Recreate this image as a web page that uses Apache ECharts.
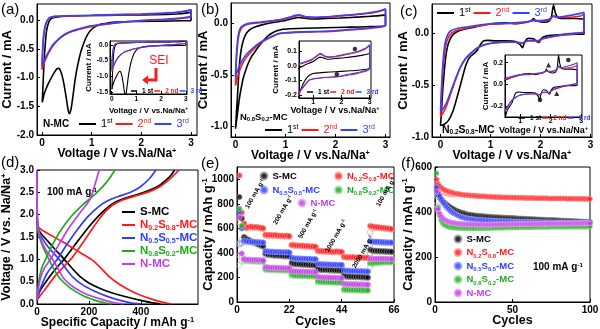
<!DOCTYPE html>
<html>
<head>
<meta charset="utf-8">
<script src="https://cdn.jsdelivr.net/npm/echarts@6/dist/echarts.min.js"></script>
<style>html,body{margin:0;padding:0;background:#fff}#chart{width:600px;height:329px}</style>
</head>
<body>
<div id="chart"></div>
<script>
// ---------- tick labels ----------
const voltTicks = [0, 1, 2, 3];
const insetVoltTicks = [1, 2, 3];
const currentTicksA = [0, -0.5, -1.0, -1.5, -2.0];
const currentTicksAInset = [0, -0.5, -1.0, -1.5];
const currentTicksBC = [0, -0.5, -1.0];
const currentTicksBInset = [0.1, 0, -0.1, -0.2];
const currentTicksCInset = [0.2, 0, -0.2];
const capTicksD = [0, 200, 400];
const voltTicksD = [0, 0.5, 1.0, 1.5, 2.0, 2.5, 3.0];
const cycleTicksE = [0, 22, 44, 66];
const capTicksE = [0, 200, 400, 600, 800, 1000];
const cycleTicksF = [0, 50, 100];
const capTicksF = [0, 200, 400, 600];

// ---------- names ----------
const cycleNames = ['1st', '2nd', '3rd'];
const materials = ['S-MC', 'N0.2S0.8-MC', 'N0.5S0.5-MC', 'N0.8S0.2-MC', 'N-MC'];
const rateLabels = ['100', '200', '500', '1000', '2000', '100'];

// ---------- (a) N-MC cyclic voltammetry [V, mA] ----------
const cvNMC_1st = [[3.0,-0.01],[2.6,-0.015],[2.2,-0.02],[1.8,-0.025],[1.5,-0.035],[1.35,-0.045],[1.2,-0.07],[1.1,-0.1],[1.0,-0.16],[0.92,-0.25],[0.85,-0.38],[0.78,-0.56],[0.72,-0.78],[0.67,-1.02],[0.63,-1.28],[0.595,-1.5],[0.57,-1.6],[0.55,-1.63],[0.53,-1.58],[0.5,-1.42],[0.46,-1.2],[0.42,-1.02],[0.38,-0.9],[0.34,-0.84],[0.3,-0.85],[0.25,-0.91],[0.19,-1.0],[0.13,-1.1],[0.08,-1.2],[0.04,-1.3],[0.015,-1.4],[0.005,-1.43],[0.015,-1.25],[0.03,-0.95],[0.05,-0.62],[0.07,-0.38],[0.09,-0.2],[0.12,-0.08],[0.16,0.0],[0.22,0.04],[0.35,0.06],[0.6,0.07],[1.0,0.08],[1.5,0.085],[2.0,0.09],[2.5,0.1],[2.8,0.11],[2.95,0.13],[3.0,0.14],[3.0,-0.01]];
const cvNMC_2nd = [[3.0,0.05],[2.8,0.03],[2.5,0.01],[2.2,0.0],[1.9,-0.02],[1.6,-0.04],[1.3,-0.07],[1.0,-0.11],[0.8,-0.15],[0.6,-0.2],[0.45,-0.26],[0.32,-0.35],[0.22,-0.45],[0.14,-0.56],[0.08,-0.67],[0.04,-0.76],[0.01,-0.84],[0.0,-0.86],[0.008,-0.68],[0.02,-0.45],[0.04,-0.25],[0.07,-0.1],[0.11,-0.01],[0.16,0.04],[0.25,0.06],[0.5,0.07],[1.0,0.08],[1.5,0.09],[2.0,0.1],[2.4,0.115],[2.7,0.13],[2.9,0.155],[3.0,0.18],[3.0,0.05]];
const cvNMC_3rd = [[3.0,0.06],[2.8,0.035],[2.5,0.015],[2.2,0.005],[1.9,-0.015],[1.6,-0.035],[1.3,-0.065],[1.0,-0.1],[0.8,-0.14],[0.6,-0.19],[0.45,-0.25],[0.32,-0.34],[0.22,-0.43],[0.14,-0.54],[0.08,-0.64],[0.04,-0.72],[0.01,-0.78],[0.0,-0.8],[0.008,-0.62],[0.02,-0.4],[0.04,-0.22],[0.07,-0.08],[0.11,0.0],[0.16,0.045],[0.25,0.065],[0.5,0.075],[1.0,0.085],[1.5,0.095],[2.0,0.105],[2.4,0.12],[2.7,0.135],[2.9,0.16],[3.0,0.18],[3.0,0.06]];

// ---------- (b) N0.8S0.2-MC ----------
const cvN8S2_1st = [[3.0,0.085],[3.0,-0.015],[2.6,-0.03],[2.2,-0.035],[1.8,-0.04],[1.4,-0.045],[1.1,-0.05],[0.95,-0.055],[0.8,-0.075],[0.65,-0.12],[0.55,-0.17],[0.45,-0.23],[0.38,-0.28],[0.32,-0.32],[0.26,-0.38],[0.22,-0.43],[0.16,-0.52],[0.12,-0.61],[0.08,-0.72],[0.05,-0.83],[0.02,-0.95],[0.0,-1.02],[0.02,-0.85],[0.04,-0.7],[0.07,-0.45],[0.1,-0.3],[0.14,-0.19],[0.2,-0.11],[0.28,-0.06],[0.4,-0.03],[0.55,-0.01],[0.75,0.01],[1.0,0.03],[1.15,0.05],[1.25,0.06],[1.35,0.055],[1.5,0.045],[1.8,0.05],[2.1,0.055],[2.5,0.065],[2.8,0.075],[3.0,0.085]];
const cvN8S2_2nd = [[3.0,0.14],[3.0,-0.02],[2.95,-0.03],[2.8,-0.04],[2.5,-0.055],[2.2,-0.065],[1.9,-0.075],[1.5,-0.08],[1.2,-0.085],[1.0,-0.09],[0.85,-0.1],[0.72,-0.13],[0.6,-0.16],[0.5,-0.19],[0.4,-0.23],[0.3,-0.28],[0.2,-0.34],[0.12,-0.41],[0.06,-0.49],[0.02,-0.56],[0.0,-0.6],[0.01,-0.45],[0.03,-0.27],[0.06,-0.13],[0.1,-0.06],[0.18,-0.02],[0.3,0.0],[0.5,0.01],[0.75,0.025],[0.95,0.04],[1.1,0.06],[1.2,0.075],[1.27,0.08],[1.35,0.07],[1.45,0.06],[1.6,0.058],[1.8,0.062],[2.0,0.07],[2.3,0.082],[2.6,0.095],[2.85,0.115],[2.95,0.13],[3.0,0.14]];
const cvN8S2_3rd = [[3.0,0.145],[3.0,-0.015],[2.95,-0.025],[2.8,-0.035],[2.5,-0.05],[2.2,-0.06],[1.9,-0.072],[1.5,-0.078],[1.2,-0.083],[1.0,-0.088],[0.85,-0.098],[0.72,-0.125],[0.6,-0.155],[0.5,-0.18],[0.4,-0.215],[0.3,-0.26],[0.2,-0.31],[0.12,-0.37],[0.06,-0.43],[0.02,-0.49],[0.0,-0.52],[0.01,-0.38],[0.03,-0.22],[0.06,-0.1],[0.1,-0.04],[0.18,-0.01],[0.3,0.005],[0.5,0.015],[0.75,0.03],[0.95,0.045],[1.1,0.065],[1.2,0.08],[1.27,0.085],[1.35,0.075],[1.45,0.065],[1.6,0.062],[1.8,0.066],[2.0,0.074],[2.3,0.086],[2.6,0.1],[2.85,0.12],[2.95,0.135],[3.0,0.145]];
const peaksB = [[2.48,0.115],[1.84,-0.058]];

// ---------- (c) N0.2S0.8-MC ----------
const cvN2S8_1st = [[2.87,0.135],[2.87,-0.01],[2.6,-0.012],[2.3,-0.02],[2.1,-0.03],[2.02,-0.05],[1.97,-0.09],[1.92,-0.08],[1.86,-0.055],[1.76,-0.05],[1.69,-0.08],[1.64,-0.14],[1.59,-0.11],[1.5,-0.08],[1.3,-0.075],[1.1,-0.075],[0.95,-0.07],[0.86,-0.075],[0.8,-0.11],[0.73,-0.17],[0.66,-0.2],[0.61,-0.22],[0.56,-0.25],[0.5,-0.32],[0.42,-0.46],[0.33,-0.62],[0.25,-0.75],[0.16,-0.84],[0.07,-0.88],[0.0,-0.89],[0.02,-0.75],[0.04,-0.58],[0.07,-0.4],[0.1,-0.25],[0.14,-0.13],[0.19,-0.06],[0.26,-0.01],[0.36,0.02],[0.5,0.04],[0.7,0.06],[0.9,0.08],[1.1,0.095],[1.3,0.1],[1.5,0.09],[1.7,0.105],[1.82,0.12],[1.86,0.14],[1.9,0.12],[2.05,0.105],[2.17,0.115],[2.22,0.16],[2.26,0.27],[2.3,0.19],[2.36,0.145],[2.5,0.14],[2.7,0.14],[2.87,0.135]];
const cvN2S8_2nd = [[2.87,0.18],[2.87,0.01],[2.7,-0.005],[2.5,-0.015],[2.3,-0.03],[2.1,-0.05],[2.0,-0.065],[1.95,-0.085],[1.9,-0.075],[1.75,-0.075],[1.62,-0.1],[1.55,-0.09],[1.4,-0.088],[1.2,-0.09],[1.0,-0.1],[0.85,-0.12],[0.72,-0.15],[0.6,-0.2],[0.5,-0.25],[0.4,-0.33],[0.3,-0.45],[0.2,-0.59],[0.12,-0.7],[0.05,-0.77],[0.0,-0.8],[0.02,-0.62],[0.04,-0.42],[0.07,-0.25],[0.1,-0.13],[0.15,-0.05],[0.22,0.0],[0.35,0.03],[0.55,0.05],[0.8,0.07],[1.0,0.085],[1.3,0.09],[1.5,0.095],[1.75,0.105],[1.85,0.12],[1.95,0.115],[2.1,0.12],[2.2,0.135],[2.26,0.17],[2.31,0.15],[2.45,0.15],[2.65,0.155],[2.8,0.165],[2.87,0.18]];
const cvN2S8_3rd = [[2.87,0.2],[2.87,0.015],[2.7,0.0],[2.5,-0.01],[2.3,-0.025],[2.1,-0.045],[2.0,-0.06],[1.95,-0.075],[1.9,-0.07],[1.75,-0.072],[1.62,-0.095],[1.55,-0.088],[1.4,-0.086],[1.2,-0.088],[1.0,-0.098],[0.85,-0.118],[0.72,-0.148],[0.6,-0.195],[0.5,-0.245],[0.4,-0.325],[0.3,-0.44],[0.2,-0.57],[0.12,-0.67],[0.05,-0.73],[0.0,-0.75],[0.015,-0.58],[0.035,-0.38],[0.06,-0.22],[0.09,-0.1],[0.14,-0.02],[0.2,0.02],[0.33,0.045],[0.55,0.06],[0.8,0.08],[1.0,0.09],[1.3,0.095],[1.5,0.1],[1.75,0.11],[1.85,0.125],[1.95,0.12],[2.1,0.125],[2.2,0.14],[2.26,0.165],[2.31,0.155],[2.45,0.16],[2.65,0.175],[2.8,0.19],[2.87,0.2]];
const peaksCDot = [[2.58,0.224],[1.65,-0.144]];
const peaksCTri = [[1.93,0.178],[2.2,-0.083]];

// ---------- (d) charge/discharge at 100 mA g-1 [mAh g-1, V] ----------
const gcdS_dis = [[0,2.05],[2,1.8],[6,1.68],[15,1.58],[35,1.45],[70,1.22],[105,1.0],[135,0.8],[165,0.62],[200,0.47],[250,0.33],[300,0.23],[350,0.15],[400,0.08],[440,0.03],[475,0.0]];
const gcdS_chg = [[0,0.12],[8,0.25],[25,0.42],[60,0.7],[111,1.05],[160,1.43],[200,1.73],[245,2.02],[290,2.24],[330,2.35],[380,2.44],[430,2.54],[470,2.65],[500,2.79],[518,2.9],[530,3.0]];
const gcdN2S8_dis = [[0,2.1],[2,1.82],[6,1.72],[20,1.65],[50,1.55],[90,1.42],[130,1.28],[175,1.12],[216,0.97],[250,0.78],[280,0.6],[320,0.43],[370,0.27],[420,0.15],[470,0.06],[500,0.02],[516,0.0]];
const gcdN2S8_chg = [[0,0.08],[10,0.17],[30,0.32],[70,0.63],[137,1.05],[180,1.4],[215,1.7],[250,1.98],[290,2.21],[330,2.33],[380,2.42],[430,2.51],[475,2.63],[510,2.79],[530,2.9],[547,3.0]];
const gcdN5S5_dis = [[0,2.0],[2,1.72],[6,1.62],[15,1.52],[40,1.3],[85,1.0],[110,0.8],[135,0.62],[170,0.45],[220,0.29],[270,0.17],[320,0.08],[365,0.02],[400,0.0]];
const gcdN5S5_chg = [[0,0.1],[5,0.2],[15,0.38],[40,0.7],[78,1.0],[115,1.33],[155,1.66],[195,1.95],[235,2.17],[265,2.29],[310,2.4],[360,2.5],[400,2.63],[435,2.82],[458,3.0]];
const gcdN8S2_dis = [[0,2.3],[1,1.95],[3,1.7],[8,1.52],[25,1.25],[46,1.0],[65,0.78],[90,0.56],[130,0.35],[180,0.18],[230,0.07],[265,0.02],[290,0.0]];
const gcdN8S2_chg = [[0,0.1],[3,0.3],[8,0.55],[18,0.8],[33,1.0],[60,1.33],[95,1.68],[135,1.98],[180,2.24],[220,2.44],[255,2.64],[280,2.82],[300,3.0]];
const gcdN_dis = [[0,3.0],[0.5,2.4],[1.5,2.0],[4,1.75],[15,1.45],[35,1.2],[60,1.0],[80,0.8],[103,0.57],[140,0.38],[190,0.22],[240,0.12],[290,0.04],[335,0.0]];
const gcdN_chg = [[0,0.1],[4,0.3],[12,0.55],[28,0.8],[52,1.0],[85,1.34],[120,1.68],[160,2.0],[195,2.26],[210,2.42],[222,2.65],[232,2.85],[240,3.0]];

// ---------- (e) rate capability, cycles 1..65 [mAh g-1] ----------
const rateS_dis = [855,680,530,515,505,495,490,480,470,462,455, 395,388,385,382,380,380,378,376,375,374,372, 318,312,310,308,307,305,305,303,302,300,300, 268,265,263,262,262,260,260,258,258,257,256, 215,210,208,207,206,205,205,204,203,202,200, 425,420,418,416,415,414,413,412,411,410];
const rateS_chg = [470,480,500,505,498,490,485,476,466,458,451, 385,384,381,379,377,377,375,373,372,371,369, 305,306,306,305,304,302,302,300,299,297,297, 258,260,259,259,259,257,257,255,255,254,253, 205,205,204,204,203,202,202,201,200,199,197, 395,412,413,412,411,411,410,409,408,407];
const rateN2S8_dis = [1030,730,640,605,612,615,610,612,608,605,600, 548,545,545,543,545,542,540,540,538,540,536, 465,462,460,460,458,458,455,455,452,453,450, 418,415,415,413,413,412,410,410,412,410,408, 368,365,365,364,365,362,363,362,362,360,360, 620,615,612,610,608,605,603,600,598,595];
const rateN2S8_chg = [650,690,625,600,606,610,605,607,603,600,596, 540,541,541,539,541,538,536,536,534,536,532, 462,459,457,457,455,455,452,452,449,450,447, 415,412,412,410,410,409,407,407,409,407,405, 366,363,363,362,363,360,361,360,360,358,358, 570,600,605,604,603,600,598,596,594,591];
const rateN5S5_dis = [735,600,500,495,492,490,488,488,486,485,484, 415,412,410,410,408,408,407,406,405,405,404, 360,356,355,354,353,352,352,350,350,349,348, 310,308,307,306,305,305,304,304,303,302,302, 258,255,254,253,252,252,251,250,250,249,248, 495,492,490,490,488,487,486,485,485,484];
const rateN5S5_chg = [480,505,492,490,488,486,485,484,483,482,481, 405,407,406,406,405,405,404,403,402,402,401, 350,351,351,351,350,349,349,347,347,346,345, 302,303,303,303,302,302,301,301,300,299,299, 250,251,251,250,249,249,248,247,247,246,245, 470,487,487,487,485,484,483,482,482,481];
const rateN8S2_dis = [760,620,345,340,338,336,335,334,333,332,330, 268,265,264,263,262,262,261,260,260,259,258, 222,218,216,215,214,214,213,212,212,211,210, 168,165,164,163,162,162,161,160,160,159,158, 102,100,99,98,98,97,97,96,96,95,95, 315,318,320,322,323,324,325,325,326,326];
const rateN8S2_chg = [300,330,335,333,332,331,330,329,328,327,326, 260,261,261,260,259,259,258,257,257,256,255, 212,213,212,212,211,211,210,209,209,208,207, 158,160,160,160,159,159,158,157,157,156,155, 95,96,96,95,95,94,94,93,93,92,92, 285,310,315,318,320,321,322,322,323,323];
const rateN_dis = [690,395,350,345,345,343,342,342,340,340,338, 285,282,280,280,279,278,278,277,276,276,275, 252,250,249,248,248,247,246,246,245,245,244, 205,202,200,200,199,198,198,197,196,196,195, 148,146,145,145,144,144,143,143,142,142,141, 350,352,352,353,353,352,352,351,351,350];
const rateN_chg = [380,360,345,342,342,340,339,339,337,337,335, 275,278,277,277,276,275,275,274,273,273,272, 245,246,246,245,245,244,243,243,242,242,241, 196,198,197,197,196,195,195,194,193,193,192, 140,142,142,142,141,141,140,140,139,139,138, 330,348,349,350,350,349,349,348,348,347];

// ---------- (f) cycling at 100 mA g-1, cycles 1..100 [mAh g-1] ----------
const cycS = [500,478,468,458,450,443,437,431,426,421,417,413,409,406,403,400,398,396,394,392,390,389,388,387,386,385,384,383,383,382,381,381,380,380,379,379,378,378,377,377,377,376,376,375,375,375,374,374,373,373,373,372,372,371,371,371,370,370,370,369,369,369,368,368,368,367,367,367,366,366,366,365,365,365,364,364,364,363,363,363,362,362,362,361,361,361,360,360,360,359,359,359,358,358,358,357,357,357,356,356];
const cycN2S8 = [545,525,515,508,503,499,496,493,490,488,486,484,482,481,480,479,478,477,476,475,475,474,473,473,472,472,471,471,470,470,470,469,469,468,468,468,467,467,467,466,466,466,466,465,465,465,465,464,464,464,464,464,463,463,463,463,463,462,462,462,462,462,462,462,461,461,461,461,461,461,461,461,460,460,460,460,460,460,460,460,460,460,460,460,459,459,459,459,459,459,459,459,459,459,459,459,458,458,458,458];
const cycN5S5 = [510,485,470,458,447,437,428,420,413,407,401,396,392,388,384,381,378,376,374,372,371,370,369,368,367,366,365,365,364,364,363,363,362,362,362,361,361,361,360,360,360,359,359,359,359,358,358,358,358,357,357,357,357,357,356,356,356,356,356,356,355,355,355,355,355,355,355,354,354,354,354,354,354,354,354,353,353,353,353,353,353,353,353,353,353,352,352,352,352,352,352,352,352,352,352,352,352,351,351,351];
const cycN8S2 = [572,420,385,365,352,345,340,337,335,333,332,331,330,330,329,329,329,328,328,328,328,328,327,327,327,328,328,328,328,328,328,328,329,329,329,329,329,329,330,330,330,330,330,330,330,331,331,331,331,331,331,331,331,332,332,332,332,332,332,332,332,332,333,333,333,333,333,333,333,333,333,333,333,334,334,334,334,334,334,334,334,334,334,334,334,335,335,335,335,335,335,335,335,335,335,335,335,335,336,336];
const cycN = [492,412,392,380,372,366,362,358,356,354,352,351,350,349,348,348,347,347,346,346,346,345,345,345,345,345,344,344,344,344,344,344,344,344,344,344,344,344,345,345,345,345,345,345,345,345,346,346,346,346,346,346,346,346,346,347,347,347,347,347,347,347,347,347,347,348,348,348,348,348,348,348,348,348,348,348,348,349,349,349,349,349,349,349,349,349,349,349,349,350,350,350,350,350,350,350,350,350,350,350];
const cycS_open = [510,470,462,453,446,440,434,428,423,418,414,410];
const cycN2S8_open = [520,505,497,492,488,486,484,482,480,479,478,477];
const cycN5S5_open = [545,478,463,452,442,432,424,416,410,404,398,394];
const cycN8S2_open = [470,425,388,362,350,343,339,336,334,332,331,330];
const cycN_open = [430,405,388,376,369,364,360,357,355,353,351,350];

// ---------- styling ----------
const FONT = '"Liberation Sans", Arial, Helvetica, sans-serif';
const CYC_COL = ['#000000', '#ff1a1a', '#3344ff'];
const MAT_COL = ['#000000', '#ff1a1a', '#2f3cff', '#1aad1a', '#c43ce6'];
const MAT_LIGHT = ['#a0a0a0', '#ffa0a0', '#a0a8ff', '#a6e0a6', '#e8a8f5'];

function richFor(fs) {
  const s = Math.round(fs * 0.62 * 10) / 10;
  return {
    sub: { fontSize: s, lineHeight: s, verticalAlign: 'bottom', fontWeight: 'bold', fontFamily: FONT },
    sup: { fontSize: s, lineHeight: s, verticalAlign: 'top', fontWeight: 'bold', fontFamily: FONT }
  };
}
function txt(fs, extra) {
  return Object.assign({ fontSize: fs, fontWeight: 'bold', fontFamily: FONT, color: '#000',
    lineHeight: Math.round(fs * 1.2), rich: richFor(fs) }, extra || {});
}
function matText(name) { return name.replace(/([NS])(0\.\d)/g, '$1{sub|$2}'); }
const f1 = v => v.toFixed(1);
const fi = v => String(v);

function mkAxis(dim, gi, min, max, ticks, fs, fmt, name, nameFs, nameGap, margin) {
  return {
    type: 'value', gridIndex: gi, min: min, max: max,
    position: dim === 'x' ? 'bottom' : 'left',
    axisLine: { show: true, onZero: false, lineStyle: { color: '#000', width: 1 } },
    axisTick: { show: true, inside: true, length: 3, customValues: ticks, lineStyle: { color: '#000', width: 1 } },
    axisLabel: { customValues: ticks, formatter: fmt, margin: margin, fontSize: fs, fontWeight: 'bold',
      fontFamily: FONT, color: '#000' },
    splitLine: { show: false },
    name: name, nameLocation: 'middle', nameGap: nameGap, nameMoveOverlap: false,
    nameTextStyle: txt(nameFs)
  };
}

const gridBoxes = [
  [37, 4, 160, 131],   // a
  [110, 41, 77, 53],   // a inset
  [231, 3, 159, 134],  // b
  [299, 41, 72, 57],   // b inset
  [432, 4, 160, 133],  // c
  [505, 55, 77, 62],   // c inset
  [37, 170, 161, 134], // d
  [237, 167, 157, 135],// e
  [435, 167, 155, 135] // f
];
const grid = gridBoxes.map(b => ({ left: b[0], top: b[1], width: b[2], height: b[3], show: true,
  borderColor: '#000', borderWidth: 1, containLabel: false, outerBoundsMode: 'none' }));

const VOLT = 'Voltage / V vs.Na/Na{sup|+}';
const CUR = 'Current / mA';
const xAxis = [
  mkAxis('x', 0, -0.1, 3.12, voltTicks, 10, fi, VOLT, 12, 12, 3),
  mkAxis('x', 1, -0.07, 3.05, voltTicks, 6.5, fi, VOLT, 8, 12, 2),
  mkAxis('x', 2, -0.09, 3.09, voltTicks, 10, fi, VOLT, 12, 12, 3),
  mkAxis('x', 3, 0.5, 3.05, insetVoltTicks, 7, fi, VOLT, 9, 7.5, 1),
  mkAxis('x', 4, -0.17, 3.03, voltTicks, 10, fi, VOLT, 12, 12, 3),
  mkAxis('x', 5, 0.5, 3.03, insetVoltTicks, 7, fi, VOLT, 9, 8, 1),
  mkAxis('x', 6, 0, 620, capTicksD, 10, fi, 'Specific Capacity / mAh g{sup|-1}', 12, 12, 3),
  mkAxis('x', 7, 0, 66, cycleTicksE, 10, fi, 'Cycles', 12.5, 12, 3),
  mkAxis('x', 8, 0, 100, cycleTicksF, 10, fi, 'Cycles', 12.5, 11, 3)
];
const yAxis = [
  mkAxis('y', 0, -2.0, 0.28, currentTicksA, 10, f1, CUR, 13, 22, 3),
  mkAxis('y', 1, -1.57, 0.13, currentTicksAInset, 6.5, f1, CUR, 8, 16, 2),
  mkAxis('y', 2, -1.1, 0.2, currentTicksBC, 10, f1, CUR, 13, 20, 3),
  mkAxis('y', 3, -0.22, 0.17, currentTicksBInset, 7, f1, CUR, 8, 18, 2),
  mkAxis('y', 4, -1.0, 0.28, currentTicksBC, 10, f1, CUR, 13, 20.5, 3),
  mkAxis('y', 5, -0.3, 0.27, currentTicksCInset, 7, f1, CUR, 8, 14, 2),
  mkAxis('y', 6, 0, 3, voltTicksD, 10, f1, 'Voltage / V vs. Na/Na{sup|+}', 12.5, 22.5, 3),
  mkAxis('y', 7, 0, 1100, capTicksE, 10, fi, 'Capacity / mAh g{sup|-1}', 13, 20.5, 3),
  mkAxis('y', 8, 0, 600, capTicksF, 10, fi, 'Capacity / mAh g{sup|-1}', 13, 18.5, 3)
];

const series = [];
function addLine(name, data, color, gi, width) {
  series.push({ name: name, type: 'line', xAxisIndex: gi, yAxisIndex: gi, data: data, symbol: 'none',
    showSymbol: false, smooth: 0.2, lineStyle: { color: color, width: width }, itemStyle: { color: color },
    silent: true, z: 2 });
}
function addDots(name, data, color, light, gi, size, z, hollow) {
  series.push({ name: name, type: 'scatter', xAxisIndex: gi, yAxisIndex: gi, data: data, symbol: 'circle',
    symbolSize: size, silent: true, z: z,
    itemStyle: hollow ? { color: 'rgba(255,255,255,0)', borderColor: light, borderWidth: 1 }
                      : { color: color, borderColor: light, borderWidth: 0.8 } });
}
const byCycle = arr => arr.map((v, i) => [i + 1, v]);

// CV panels: main plot and its inset share the same sweeps
const cvSets = [
  ['a', [cvNMC_1st, cvNMC_2nd, cvNMC_3rd], 0],
  ['b', [cvN8S2_1st, cvN8S2_2nd, cvN8S2_3rd], 2],
  ['c', [cvN2S8_1st, cvN2S8_2nd, cvN2S8_3rd], 4]
];
cvSets.forEach(([p, sweeps, gi]) => {
  sweeps.forEach((d, k) => addLine(p + '-' + cycleNames[k], d, CYC_COL[k], gi, 1.6));
  sweeps.forEach((d, k) => addLine(p + '-' + cycleNames[k], d, CYC_COL[k], gi + 1, 1.1));
});
series.push({ type: 'scatter', xAxisIndex: 3, yAxisIndex: 3, data: peaksB, symbol: 'circle', symbolSize: 4.5,
  itemStyle: { color: '#000' }, silent: true, z: 4 });
series.push({ type: 'scatter', xAxisIndex: 5, yAxisIndex: 5, data: peaksCDot, symbol: 'circle', symbolSize: 4.5,
  itemStyle: { color: '#000' }, silent: true, z: 4 });
series.push({ type: 'scatter', xAxisIndex: 5, yAxisIndex: 5, data: peaksCTri, symbol: 'triangle', symbolSize: 5,
  itemStyle: { color: '#000' }, silent: true, z: 4 });

// (d) discharge / charge profiles
const gcd = [[gcdS_dis, gcdS_chg], [gcdN2S8_dis, gcdN2S8_chg], [gcdN5S5_dis, gcdN5S5_chg],
  [gcdN8S2_dis, gcdN8S2_chg], [gcdN_dis, gcdN_chg]];
gcd.forEach((pair, m) => {
  addLine('gcd:' + materials[m], pair[0], MAT_COL[m], 6, 1.7);
  addLine('gcd:' + materials[m], pair[1], MAT_COL[m], 6, 1.7);
});

// (e) rate capability: hollow = charge, filled = discharge
const rateSets = [[rateS_dis, rateS_chg], [rateN2S8_dis, rateN2S8_chg], [rateN5S5_dis, rateN5S5_chg],
  [rateN8S2_dis, rateN8S2_chg], [rateN_dis, rateN_chg]];
rateSets.forEach((pair, m) => addDots('rate-open:' + materials[m], byCycle(pair[1]), MAT_COL[m], MAT_LIGHT[m], 7, 5.5, 2, true));
rateSets.forEach((pair, m) => addDots('rate:' + materials[m], byCycle(pair[0]), MAT_COL[m], MAT_LIGHT[m], 7, 5.5, 3, false));

// (f) long cycling
const cycSets = [[cycS, cycS_open], [cycN2S8, cycN2S8_open], [cycN5S5, cycN5S5_open],
  [cycN8S2, cycN8S2_open], [cycN, cycN_open]];
cycSets.forEach((pair, m) => addDots('cyc-open:' + materials[m], byCycle(pair[1]), MAT_COL[m], MAT_LIGHT[m], 8, 5, 2, true));
cycSets.forEach((pair, m) => addDots('cyc:' + materials[m], byCycle(pair[0]), MAT_COL[m], MAT_LIGHT[m], 8, 5, 3, false));

// ---------- legends ----------
function cycleLegend(p, left, top, inset) {
  const fs = inset ? 6.5 : 11;
  return {
    left: left, top: top, orient: 'horizontal', padding: 0, selectedMode: false,
    itemWidth: inset ? 6 : 17, itemHeight: inset ? 1.5 : 2, itemGap: inset ? 1 : 3, icon: 'rect',
    data: cycleNames.map((c, k) => ({ name: p + '-' + c, textStyle: { color: CYC_COL[k] } })),
    formatter: n => { const c = n.split('-')[1]; return inset ? c[0] + ' ' + c.slice(1) : c[0] + '{sup|' + c.slice(1) + '}'; },
    textStyle: Object.assign(txt(fs), { fontWeight: inset ? 'bold' : 'normal', lineHeight: inset ? 8 : 13,
      rich: { sup: { fontSize: 7, lineHeight: 7, verticalAlign: 'top', fontFamily: FONT } } })
  };
}
const stripPrefix = n => matText(n.slice(n.indexOf(':') + 1));
const legend = [
  cycleLegend('a', 79, 117.5, false),
  cycleLegend('a', 131, 87, true),
  cycleLegend('b', 265, 123.5, false),
  cycleLegend('b', 307, 88, true),
  cycleLegend('c', 437, 6.5, false),
  cycleLegend('c', 519, 114, true),
  { left: 122, top: 205.5, orient: 'vertical', padding: 0, itemGap: 0, selectedMode: false,
    itemWidth: 13, itemHeight: 2, icon: 'rect',
    data: materials.map((m, k) => ({ name: 'gcd:' + m, textStyle: { color: MAT_COL[k] } })),
    formatter: stripPrefix, textStyle: txt(11.5, { lineHeight: 13 }) }
];
const eLegendPos = [[259.5, 170], [334, 170], [259.5, 184], [334, 184], [297.5, 197]];
materials.forEach((m, k) => legend.push({
  left: eLegendPos[k][0], top: eLegendPos[k][1], padding: 0, selectedMode: false,
  itemWidth: 7, itemHeight: 7, icon: 'circle',
  data: [{ name: 'rate:' + m, textStyle: { color: MAT_COL[k] } }],
  formatter: stripPrefix, textStyle: txt(9.5, { lineHeight: 12 })
}));
legend.push({ left: 453.5, top: 232.5, orient: 'vertical', padding: 0, itemGap: 0.5, selectedMode: false,
  itemWidth: 7, itemHeight: 7, icon: 'circle',
  data: materials.map((m, k) => ({ name: 'cyc:' + m, textStyle: { color: MAT_COL[k] } })),
  formatter: stripPrefix, textStyle: txt(9.5, { lineHeight: 13 }) });

// ---------- text annotations ----------
function label(x, y, text, fs, extra) {
  return Object.assign({ type: 'text', x: x, y: y, z: 10,
    style: Object.assign({ text: text, fontSize: fs, fontWeight: 'bold', fontFamily: FONT, fill: '#000',
      verticalAlign: 'middle', align: 'left', rich: richFor(fs) }, extra || {}) });
}
const graphic = [
  label(1, 10, '(a)', 15, { fontWeight: 'normal' }),
  label(201, 10, '(b)', 15, { fontWeight: 'normal' }),
  label(400, 12, '(c)', 15, { fontWeight: 'normal' }),
  label(1, 163, '(d)', 15, { fontWeight: 'normal' }),
  label(201, 164, '(e)', 15, { fontWeight: 'normal' }),
  label(401, 164, '(f)', 15, { fontWeight: 'normal' }),
  label(43, 124, 'N-MC', 10),
  label(240, 117, matText('N0.8S0.2-MC'), 9.5),
  label(442, 130, matText('N0.2S0.8-MC'), 10.5),
  label(47, 192, '100 mA g{sup|-1}', 10),
  label(533, 267, '100 mA g{sup|-1}', 10),
  label(159, 61, 'SEI', 12, { fill: '#ff1a1a', align: 'center', fontWeight: 'normal' }),
  { type: 'polyline', z: 10, shape: { points: [[156, 68], [156, 80], [147, 80]] },
    style: { stroke: '#ff1a1a', lineWidth: 3, fill: null } },
  { type: 'polygon', z: 10, shape: { points: [[148, 75.5], [148, 84.5], [142, 80]] },
    style: { fill: '#ff1a1a' } }
];
const rateLabelPos = [[255, 194], [283, 210], [308, 224], [336, 236], [363, 252], [386, 192]];
rateLabels.forEach((r, k) => graphic.push(Object.assign(
  label(rateLabelPos[k][0], rateLabelPos[k][1], r + ' mA g{sup|-1}', 6.5, { align: 'center', fontWeight: 'bold' }),
  { rotation: Math.PI / 3 })));

const chart = echarts.init(document.getElementById('chart'), null, { renderer: 'canvas' });
chart.setOption({
  animation: false,
  backgroundColor: '#fff',
  textStyle: { fontFamily: FONT },
  grid: grid, xAxis: xAxis, yAxis: yAxis, series: series, legend: legend, graphic: graphic
});
</script>
</body>
</html>
